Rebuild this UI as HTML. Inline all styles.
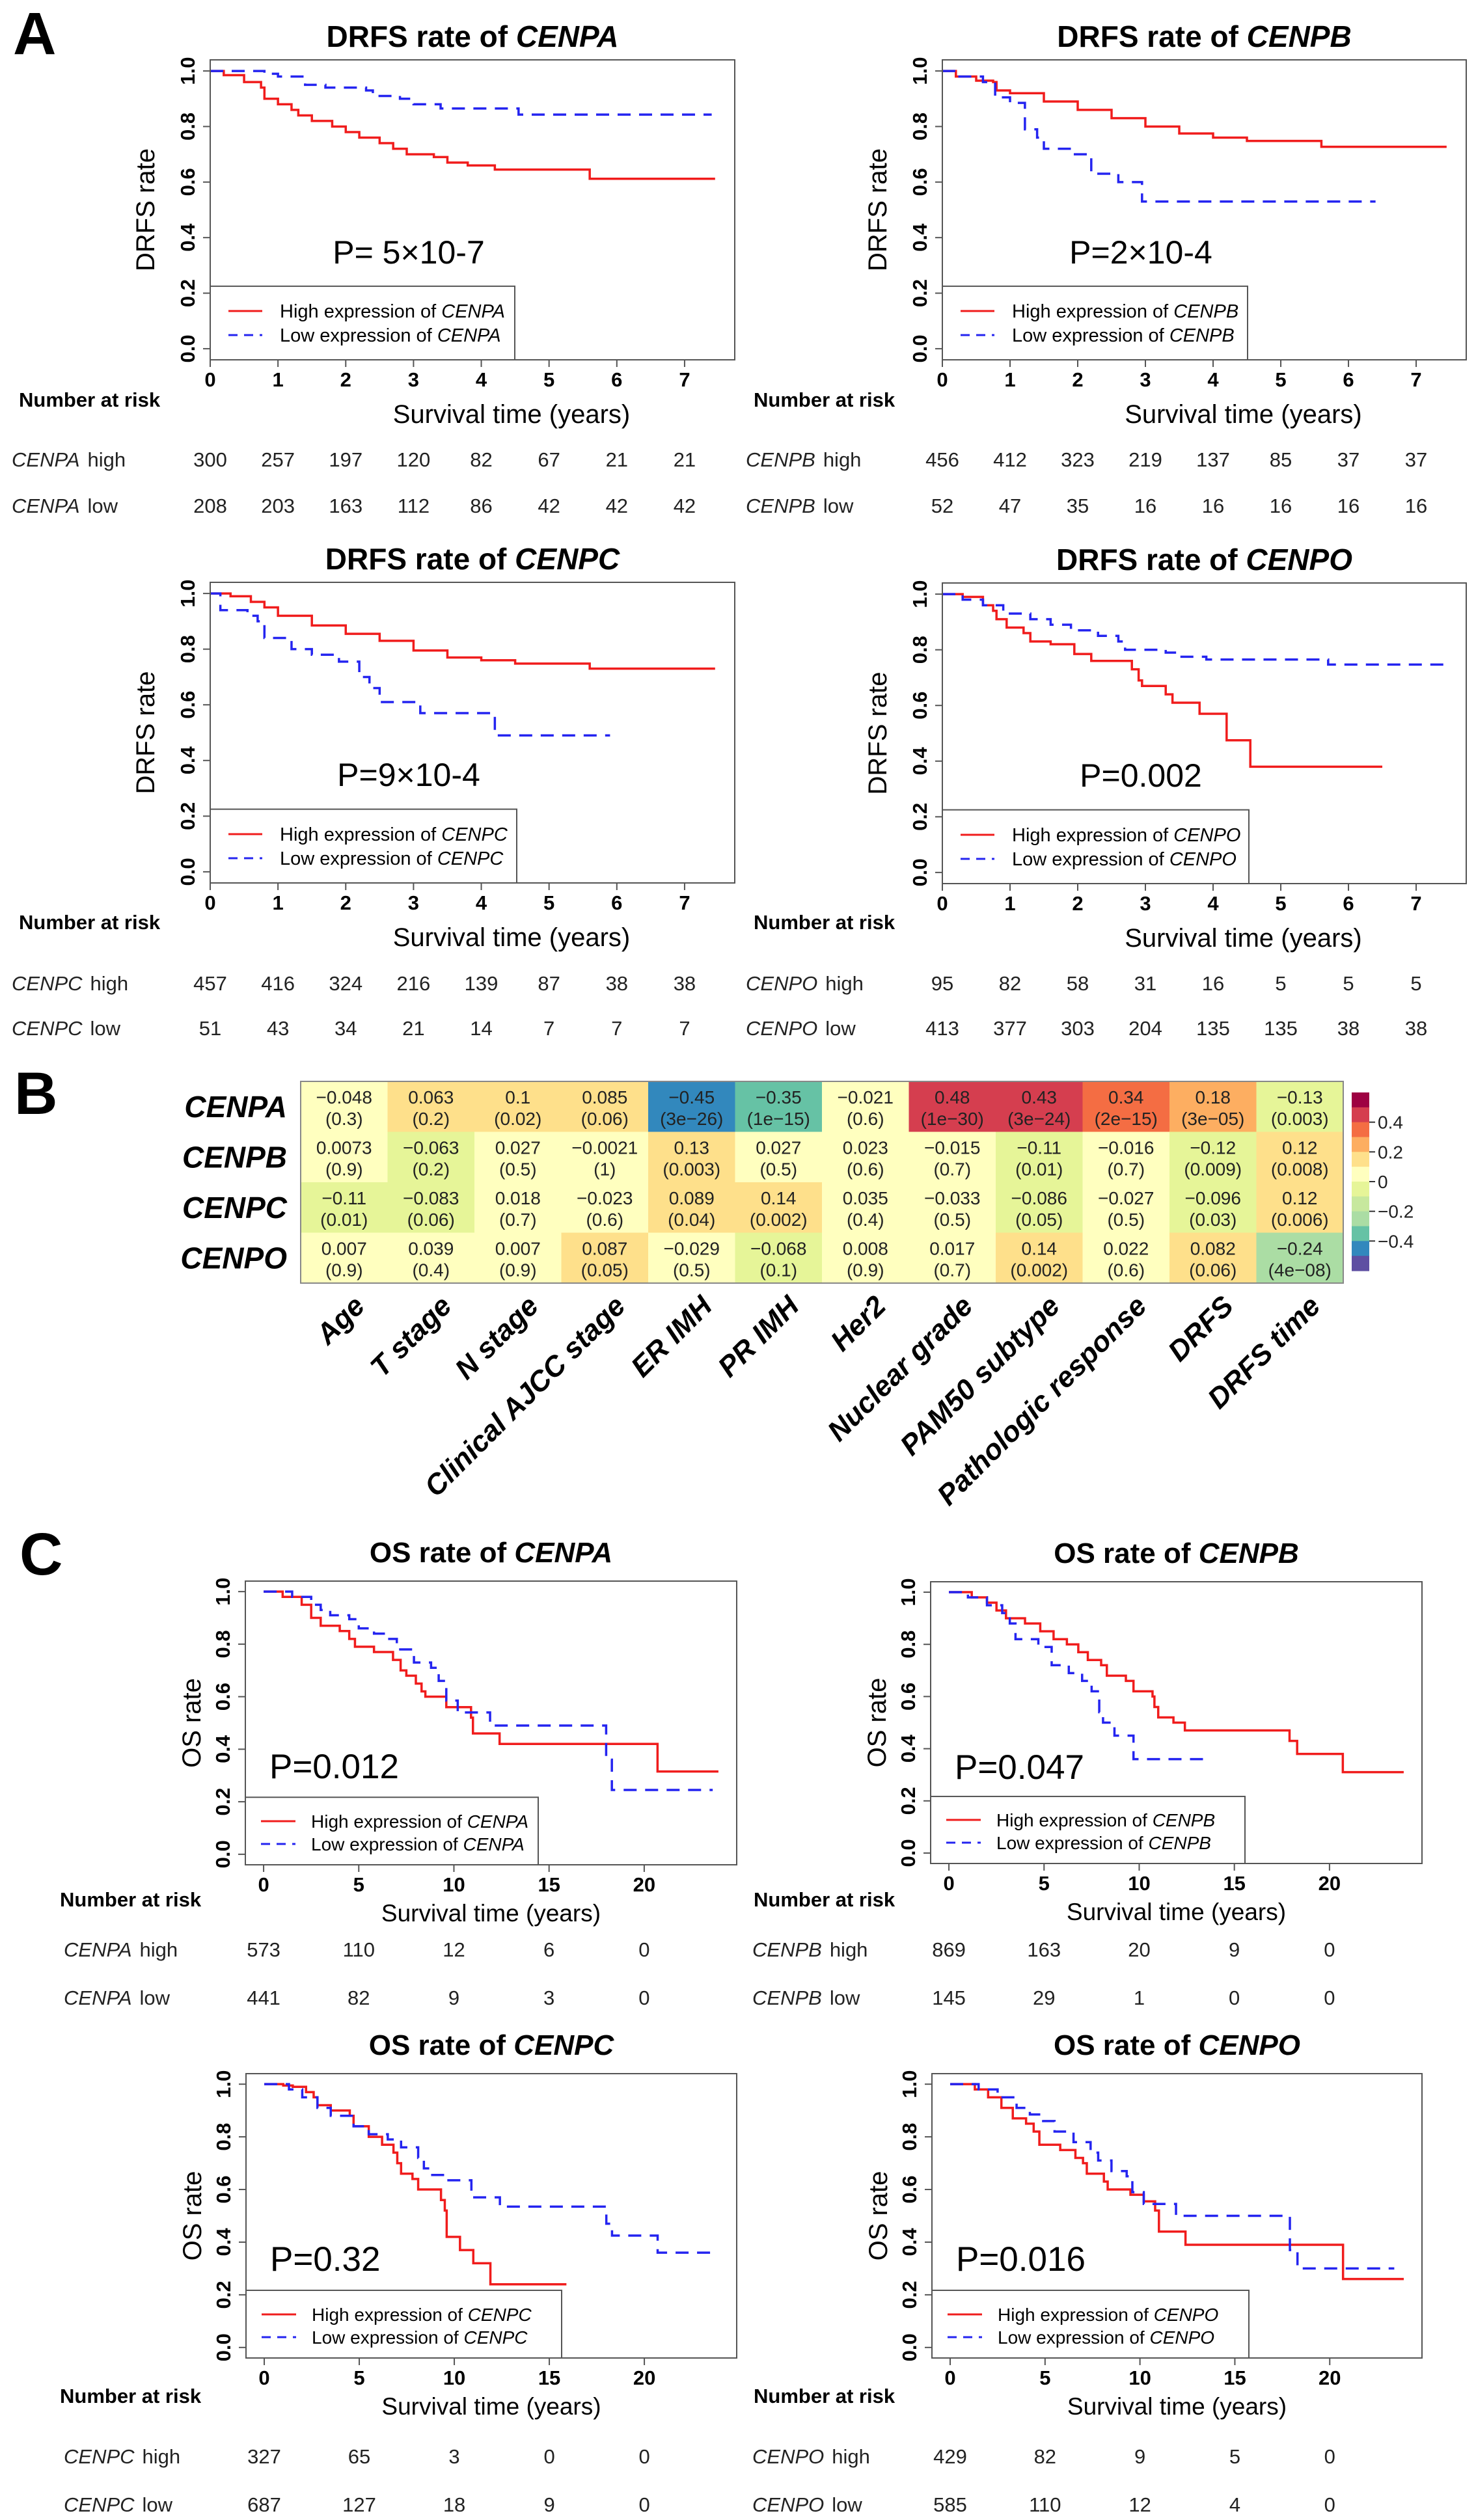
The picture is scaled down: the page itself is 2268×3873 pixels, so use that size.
<!DOCTYPE html>
<html><head><meta charset="utf-8"><title>CENP survival and correlation figure</title>
<style>html,body{margin:0;padding:0;background:#fff}svg{display:block}text{font-family:"Liberation Sans",Arial,sans-serif}</style>
</head><body>
<svg id="fig" xmlns="http://www.w3.org/2000/svg" width="2268" height="3873" viewBox="0 0 2268 3873">
<rect x="0" y="0" width="2268" height="3873" fill="#fff"/>
<text x="20" y="83" font-size="92" font-weight="bold">A</text>
<text x="22" y="1712" font-size="92" font-weight="bold">B</text>
<text x="30" y="2420" font-size="92" font-weight="bold">C</text>
</svg>
<script>
// ---------- DATA ----------
const drfsXTicks=[0,1,2,3,4,5,6,7];
const osXTicks=[0,5,10,15,20];
const yTicks=[0,0.2,0.4,0.6,0.8,1.0];
const yTickLabels=["0.0","0.2","0.4","0.6","0.8","1.0"];

const drfsA_highT=[0.2,0.5,0.75,0.8,1.0,1.2,1.3,1.5,1.8,2.0,2.2,2.5,2.7,2.9,3.3,3.5,3.8,4.2,5.6];
const drfsA_highS=[0.985,0.96,0.94,0.90,0.88,0.86,0.84,0.82,0.80,0.78,0.76,0.74,0.72,0.70,0.69,0.67,0.66,0.645,0.612];
const drfsA_lowT=[0.8,1.0,1.4,1.7,2.3,2.4,2.8,3.0,3.4,4.55];
const drfsA_lowS=[0.99,0.98,0.95,0.94,0.93,0.91,0.90,0.88,0.865,0.843];
const drfsA_riskHigh=[300,257,197,120,82,67,21,21];
const drfsA_riskLow=[208,203,163,112,86,42,42,42];

const drfsB_highT=[0.2,0.5,0.75,0.8,1.0,1.5,2.0,2.5,3.0,3.5,4.0,4.5,5.6];
const drfsB_highS=[0.98,0.965,0.96,0.93,0.92,0.89,0.86,0.83,0.80,0.775,0.76,0.748,0.727];
const drfsB_lowT=[0.2,0.6,0.78,1.0,1.22,1.4,1.5,1.9,2.2,2.6,2.95];
const drfsB_lowS=[0.98,0.96,0.905,0.885,0.79,0.76,0.72,0.70,0.63,0.60,0.53];
const drfsB_riskHigh=[456,412,323,219,137,85,37,37];
const drfsB_riskLow=[52,47,35,16,16,16,16,16];

const drfsC_highT=[0.3,0.6,0.8,1.0,1.5,2.0,2.5,3.0,3.5,4.0,4.5,5.6];
const drfsC_highS=[0.99,0.97,0.95,0.92,0.885,0.855,0.83,0.795,0.77,0.76,0.748,0.73];
const drfsC_lowT=[0.15,0.55,0.7,0.8,1.2,1.5,1.9,2.2,2.35,2.5,3.1,4.2];
const drfsC_lowS=[0.94,0.92,0.90,0.84,0.80,0.78,0.755,0.70,0.66,0.61,0.57,0.49];
const drfsC_riskHigh=[457,416,324,216,139,87,38,38];
const drfsC_riskLow=[51,43,34,21,14,7,7,7];

const drfsO_highT=[0.3,0.6,0.75,0.8,0.95,1.2,1.3,1.6,1.95,2.2,2.8,2.9,2.95,3.3,3.4,3.8,4.2,4.55];
const drfsO_highS=[0.99,0.96,0.94,0.91,0.88,0.86,0.83,0.82,0.785,0.76,0.73,0.69,0.67,0.64,0.61,0.57,0.475,0.38];
const drfsO_lowT=[0.3,0.6,0.9,1.3,1.6,1.9,2.3,2.6,2.7,3.3,3.5,3.9,5.7];
const drfsO_lowS=[0.98,0.96,0.93,0.91,0.89,0.87,0.85,0.83,0.80,0.79,0.775,0.765,0.747];
const drfsO_riskHigh=[95,82,58,31,16,5,5,5];
const drfsO_riskLow=[413,377,303,204,135,135,38,38];

const osA_highT=[1,2,2.5,3,4,4.5,4.8,5.8,6.8,7.2,7.5,8.0,8.3,8.5,9.6,10.9,11.0,12.4,20.7];
const osA_highS=[0.98,0.95,0.90,0.87,0.85,0.82,0.79,0.77,0.74,0.70,0.68,0.65,0.62,0.60,0.56,0.52,0.46,0.42,0.315];
const osA_lowT=[1.5,2.5,3,3.5,4.5,5,5.8,6.5,7,7.9,8.8,9.2,9.6,10.2,11.9,18,18.3];
const osA_lowS=[0.98,0.95,0.93,0.91,0.895,0.86,0.84,0.82,0.78,0.73,0.71,0.66,0.585,0.54,0.49,0.36,0.245];
const osA_riskHigh=[573,110,12,6,0];
const osA_riskLow=[441,82,9,3,0];

const osB_highT=[1.2,2,2.5,3,4,4.8,5.5,6.2,6.8,7.3,8,8.3,9.3,9.7,10.7,10.8,11,11.8,12.4,17.9,18.3,20.7];
const osB_highS=[0.98,0.96,0.93,0.90,0.88,0.85,0.82,0.80,0.77,0.74,0.72,0.68,0.66,0.62,0.60,0.56,0.52,0.50,0.47,0.43,0.38,0.31];
const osB_lowT=[1.0,2.0,2.8,3.2,3.5,4.7,5.4,6.3,7,7.5,7.9,8.1,8.7,9.7];
const osB_lowS=[0.98,0.95,0.92,0.88,0.82,0.79,0.72,0.69,0.66,0.62,0.54,0.50,0.45,0.36];
const osB_riskHigh=[869,163,20,9,0];
const osB_riskLow=[145,29,1,0,0];

const osC_highT=[1,1.5,2.2,2.6,2.8,3.5,4.5,4.7,5.5,6.2,6.8,7.0,7.2,7.8,8.1,9.3,9.5,9.6,10.3,11,11.9];
const osC_highS=[0.995,0.99,0.97,0.95,0.92,0.90,0.88,0.84,0.80,0.77,0.74,0.70,0.66,0.64,0.60,0.56,0.52,0.42,0.37,0.32,0.24];
const osC_lowT=[1.3,2,2.8,3.5,4.7,5.5,6.5,7.2,8.1,8.4,8.7,9.6,10.9,12.4,18,18.3,20.7];
const osC_lowS=[0.98,0.95,0.91,0.88,0.84,0.81,0.79,0.76,0.72,0.68,0.655,0.635,0.57,0.535,0.47,0.425,0.36];
const osC_riskHigh=[327,65,3,0,0];
const osC_riskLow=[687,127,18,9,0];

const osO_highT=[1.3,2,2.7,3.3,4,4.4,4.7,5.8,6.6,7,7.2,8.1,8.3,9.5,10.2,10.8,11,12.4,20.7];
const osO_highS=[0.98,0.95,0.91,0.87,0.85,0.82,0.77,0.75,0.72,0.70,0.66,0.63,0.60,0.58,0.555,0.52,0.44,0.39,0.26];
const osO_lowT=[1.5,2.5,3.5,4.2,4.9,5.5,6.5,7.4,7.8,8.5,9.3,9.6,10.2,11.9,17.9,18.3];
const osO_lowS=[0.98,0.95,0.91,0.885,0.86,0.82,0.78,0.74,0.71,0.67,0.65,0.59,0.545,0.50,0.37,0.30];
const osO_riskHigh=[429,82,9,5,0];
const osO_riskLow=[585,110,12,4,0];

// heatmap data
const hmGenes=["CENPA","CENPB","CENPC","CENPO"];
const hmVars=["Age","T stage","N stage","Clinical AJCC stage","ER IMH","PR IMH","Her2","Nuclear grade","PAM50 subtype","Pathologic response","DRFS","DRFS time"];
const hmCorrA=[-0.048,0.063,0.1,0.085,-0.45,-0.35,-0.021,0.48,0.43,0.34,0.18,-0.13];
const hmCorrB=[0.0073,-0.063,0.027,-0.0021,0.13,0.027,0.023,-0.015,-0.11,-0.016,-0.12,0.12];
const hmCorrC=[-0.11,-0.083,0.018,-0.023,0.089,0.14,0.035,-0.033,-0.086,-0.027,-0.096,0.12];
const hmCorrO=[0.007,0.039,0.007,0.087,-0.029,-0.068,0.008,0.017,0.14,0.022,0.082,-0.24];
const hmPA=["0.3","0.2","0.02","0.06","3e\u221226","1e\u221215","0.6","1e\u221230","3e\u221224","2e\u221215","3e\u221205","0.003"];
const hmPB=["0.9","0.2","0.5","1","0.003","0.5","0.6","0.7","0.01","0.7","0.009","0.008"];
const hmPC=["0.01","0.06","0.7","0.6","0.04","0.002","0.4","0.5","0.05","0.5","0.03","0.006"];
const hmPO=["0.9","0.4","0.9","0.05","0.5","0.1","0.9","0.7","0.002","0.6","0.06","4e\u221208"];
const cbTicks=[0.4,0.2,0,-0.2,-0.4];
const cbTickLabels=["0.4","0.2","0","\u22120.2","\u22120.4"];

// ---------- DRAWING ----------
const NS='http://www.w3.org/2000/svg';
const svg=document.getElementById('fig');
function mk(tag,parent,attrs){const e=document.createElementNS(NS,tag);for(const k in attrs)e.setAttribute(k,attrs[k]);parent.appendChild(e);return e;}

function drawKM(c){
  const g=mk('g',svg,{});
  
  
  const L=c.x,T=c.y,W=c.w,H=c.h,B=T+H;
  const X=t=>L+(t-c.xmin)/(c.xmax-c.xmin)*W;
  const Y=v=>T+(1.04-v)/1.08*H;
  // title
  const tt=mk('text',g,{x:L+W/2,y:T+c.titleDy,'text-anchor':'middle','font-size':c.titleSize,'font-weight':'bold'});
  
  
  tt.appendChild(document.createTextNode(c.titlePre));
  const ti=mk('tspan',tt,{'font-style':'italic'});ti.textContent=c.gene;
  // curves
  function curve(ts,ss,end,col,dash,nm){
    let d='M'+X(0)+' '+Y(1);
    for(let i=0;i<ts.length;i++){d+=' H'+X(ts[i])+' V'+Y(ss[i]);}
    d+=' H'+X(end);
    const p=mk('path',g,{d:d,fill:'none',stroke:col,'stroke-width':3.5});
    if(dash)p.setAttribute('stroke-dasharray',dash);
    
    
  }
  curve(c.highT,c.highS,c.highEnd,'#f01c1c',null,'high-expression-curve');
  curve(c.lowT,c.lowS,c.lowEnd,'#2424f0','20 13','low-expression-curve');
  // box
  const bx=mk('rect',g,{x:L,y:T,width:W,height:H,fill:'none',stroke:'#555','stroke-width':2});
  
  
  // x ticks
  c.xticks.forEach(t=>{
    const ln=mk('line',g,{x1:X(t),x2:X(t),y1:B,y2:B+11,stroke:'#555','stroke-width':2});
    
    
    const lb=mk('text',g,{x:X(t),y:B+41,'text-anchor':'middle','font-size':31,'font-weight':'bold'});
    
    
    lb.textContent=String(t);
  });
  // y ticks
  yTicks.forEach((v,i)=>{
    const ln=mk('line',g,{x1:L-11,x2:L,y1:Y(v),y2:Y(v),stroke:'#555','stroke-width':2});
    
    
    const lx=L-24,ly=Y(v);
    const lb=mk('text',g,{x:lx,y:ly,'text-anchor':'middle','font-size':31,'font-weight':'bold',transform:'rotate(-90 '+lx+' '+ly+')'});
    
    
    lb.textContent=yTickLabels[i];
  });
  // y title
  const yx=L-c.ytitleDx,yy=T+H/2;
  const yt=mk('text',g,{x:yx,y:yy,'text-anchor':'middle','font-size':40,transform:'rotate(-90 '+yx+' '+yy+')'});
  
  
  yt.textContent=c.ytitle;
  // x title
  const xt=mk('text',g,{x:L+W/2+c.xtitleShift,y:B+c.xtitleDy,'text-anchor':'middle','font-size':c.xtitleSize});
  
  
  xt.textContent='Survival time (years)';
  // legend
  const lgTop=Y(c.legendV);
  const lg=mk('rect',g,{x:L,y:lgTop,width:c.legendW,height:B-lgTop,fill:'#fff',stroke:'#555','stroke-width':2});
  
  
  [['High','#f01c1c',null,c.legY1,'legend-entry-high'],['Low','#2424f0','14 10',c.legY2,'legend-entry-low']].forEach(e=>{
    const yy2=B+e[3];
    const ln=mk('line',g,{x1:L+c.legLine0,x2:L+c.legLine1,y1:yy2,y2:yy2,stroke:e[1],'stroke-width':3});
    if(e[2])ln.setAttribute('stroke-dasharray',e[2]);
    
    
    const tx=mk('text',g,{x:L+c.legText,y:yy2+10,'font-size':c.legSize});
    
    
    tx.appendChild(document.createTextNode(e[0]+' expression of '));
    const it=mk('tspan',tx,{'font-style':'italic'});it.textContent=c.gene;
  });
  // p value
  const pv=mk('text',g,{x:L+c.pDx,y:T+c.pDy,'text-anchor':c.pAnchor,'font-size':c.pSize});
  
  
  pv.textContent=c.p;
  // risk table
  const nar=mk('text',g,{x:c.narX,y:c.narY,'font-size':31,'font-weight':'bold'});
  
  
  nar.textContent='Number at risk';
  [['high',c.riskHigh,c.highY,'risk-row-high'],['low',c.riskLow,c.lowY,'risk-row-low']].forEach(r=>{
    const lb=mk('text',g,{x:c.rowX,y:r[2],'font-size':31,fill:'#222'});
    
    
    const it=mk('tspan',lb,{'font-style':'italic'});it.textContent=c.gene;
    const rest=mk('tspan',lb,{dx:12});rest.textContent=r[0];
    r[1].forEach((n,i)=>{
      const nt=mk('text',g,{x:X(c.xticks[i]),y:r[2],'text-anchor':'middle','font-size':31,fill:'#222'});
      
      
      nt.textContent=String(n);
    });
  });
}

const drfsBase={xmin:0,xmax:7.74,xticks:drfsXTicks,titlePre:'DRFS rate of ',titleSize:46,titleDy:-20,ytitle:'DRFS rate',ytitleDx:86,xtitleShift:60,xtitleDy:97,xtitleSize:40,legendV:0.225,legY1:-75,legY2:-38,legLine0:28,legLine1:80,legText:107,legSize:29,pDx:305,pDy:313,pAnchor:'middle',pSize:50};
const osBase={xmin:-0.96,xmax:24.86,xticks:osXTicks,titlePre:'OS rate of ',titleSize:44,titleDy:-29,ytitle:'OS rate',ytitleDx:69,xtitleShift:0,xtitleDy:87,xtitleSize:37,legendV:0.217,legY1:-67,legY2:-32,legLine0:24,legLine1:77,legText:101,legSize:28,pDx:37,pDy:303,pAnchor:'start',pSize:53};

const panels=[
 Object.assign({},drfsBase,{name:'km-drfs-cenpa',gene:'CENPA',x:323,y:92,w:806,h:461,highT:drfsA_highT,highS:drfsA_highS,highEnd:7.45,lowT:drfsA_lowT,lowS:drfsA_lowS,lowEnd:7.4,riskHigh:drfsA_riskHigh,riskLow:drfsA_riskLow,p:'P= 5\u00d710-7',legendW:468,narX:29,rowX:18,narY:625,highY:717,lowY:788}),
 Object.assign({},drfsBase,{name:'km-drfs-cenpb',gene:'CENPB',x:1448,y:92,w:805,h:461,highT:drfsB_highT,highS:drfsB_highS,highEnd:7.45,lowT:drfsB_lowT,lowS:drfsB_lowS,lowEnd:6.4,riskHigh:drfsB_riskHigh,riskLow:drfsB_riskLow,p:'P=2\u00d710-4',legendW:469,narX:1158,rowX:1146,narY:625,highY:717,lowY:788}),
 Object.assign({},drfsBase,{name:'km-drfs-cenpc',gene:'CENPC',x:323,y:895,w:806,h:462,highT:drfsC_highT,highS:drfsC_highS,highEnd:7.45,lowT:drfsC_lowT,lowS:drfsC_lowS,lowEnd:5.9,riskHigh:drfsC_riskHigh,riskLow:drfsC_riskLow,p:'P=9\u00d710-4',legendW:471,narX:29,rowX:18,narY:1428,highY:1522,lowY:1591}),
 Object.assign({},drfsBase,{name:'km-drfs-cenpo',gene:'CENPO',x:1448,y:896,w:805,h:462,highT:drfsO_highT,highS:drfsO_highS,highEnd:6.5,lowT:drfsO_lowT,lowS:drfsO_lowS,lowEnd:7.45,riskHigh:drfsO_riskHigh,riskLow:drfsO_riskLow,p:'P=0.002',legendW:471,narX:1158,rowX:1146,narY:1428,highY:1522,lowY:1591}),
 Object.assign({},osBase,{name:'km-os-cenpa',gene:'CENPA',x:377,y:2430,w:755,h:436,highT:osA_highT,highS:osA_highS,highEnd:23.9,lowT:osA_lowT,lowS:osA_lowS,lowEnd:23.6,riskHigh:osA_riskHigh,riskLow:osA_riskLow,p:'P=0.012',legendW:450,narX:92,rowX:98,narY:2930,highY:3007,lowY:3081}),
 Object.assign({},osBase,{name:'km-os-cenpb',gene:'CENPB',x:1430,y:2431,w:755,h:433,highT:osB_highT,highS:osB_highS,highEnd:23.9,lowT:osB_lowT,lowS:osB_lowS,lowEnd:13.7,riskHigh:osB_riskHigh,riskLow:osB_riskLow,p:'P=0.047',legendW:483,narX:1158,rowX:1156,narY:2930,highY:3007,lowY:3081}),
 Object.assign({},osBase,{name:'km-os-cenpc',gene:'CENPC',x:378,y:3187,w:754,h:437,highT:osC_highT,highS:osC_highS,highEnd:15.9,lowT:osC_lowT,lowS:osC_lowS,lowEnd:23.9,riskHigh:osC_riskHigh,riskLow:osC_riskLow,p:'P=0.32',legendW:485,narX:92,rowX:98,narY:3693,highY:3786,lowY:3860}),
 Object.assign({},osBase,{name:'km-os-cenpo',gene:'CENPO',x:1432,y:3187,w:753,h:437,highT:osO_highT,highS:osO_highS,highEnd:23.9,lowT:osO_lowT,lowS:osO_lowS,lowEnd:23.4,riskHigh:osO_riskHigh,riskLow:osO_riskLow,p:'P=0.016',legendW:487,narX:1158,rowX:1156,narY:3693,highY:3786,lowY:3860})
];
panels.forEach(drawKM);

// ---------- HEATMAP ----------
(function(){
  const g=mk('g',svg,{});
  
  
  const x0=462,y0=1662,cw=133.5,rh=77.5;
  const corr=[hmCorrA,hmCorrB,hmCorrC,hmCorrO];
  const pv=[hmPA,hmPB,hmPC,hmPO];
  function col(v){
    if(v>=0.4)return '#d53e4f';
    if(v>=0.3)return '#f46d43';
    if(v>=0.15)return '#fdae61';
    if(v>=0.05)return '#fee08b';
    if(v>-0.05)return '#ffffbf';
    if(v>-0.15)return '#e6f598';
    if(v>-0.3)return '#abdda4';
    if(v>-0.4)return '#66c2a5';
    return '#3288bd';
  }
  corr.forEach((row,r)=>{
    row.forEach((v,ci)=>{
      const cell=mk('rect',g,{x:x0+ci*cw,y:y0+r*rh,width:cw+0.6,height:rh+0.6,fill:col(v)});
      
      
      const cx=x0+ci*cw+cw/2;
      const t1=mk('text',g,{x:cx,y:y0+r*rh+34,'text-anchor':'middle','font-size':28,fill:'#222'});
      
      
      t1.textContent=String(v).replace('-','\u2212');
      const t2=mk('text',g,{x:cx,y:y0+r*rh+67,'text-anchor':'middle','font-size':28,fill:'#222'});
      
      
      t2.textContent='('+pv[r][ci]+')';
    });
    const rl=mk('text',g,{x:441,y:y0+r*rh+rh/2+16,'text-anchor':'end','font-size':46,'font-weight':'bold','font-style':'italic'});
    
    
    rl.textContent=hmGenes[r];
  });
  const fr=mk('rect',g,{x:x0,y:y0,width:cw*12,height:rh*4,fill:'none',stroke:'#888','stroke-width':2});
  
  
  hmVars.forEach((name,ci)=>{
    const px=x0+ci*cw+cw/2+34,py=2010;
    const t=mk('text',g,{x:px,y:py,'text-anchor':'end','font-size':44,'font-weight':'bold','font-style':'italic',transform:'rotate(-45 '+px+' '+py+')'});
    
    
    t.textContent=name;
  });
  // colorbar
  const cbCols=['#9e0142','#d53e4f','#f46d43','#fdae61','#fee08b','#ffffbf','#e6f598','#c7e89e','#abdda4','#66c2a5','#3288bd','#5e4fa2'];
  const cbx=2077,cbTop=1679,cbBot=1953,cbW=27;
  const CY=v=>cbTop+(0.6-v)/1.2*(cbBot-cbTop);
  cbCols.forEach((c,i)=>{
    const b=mk('rect',g,{x:cbx,y:CY(0.6-i*0.1),width:cbW,height:(cbBot-cbTop)/12+0.6,fill:c});
    
    
  });
  cbTicks.forEach((v,i)=>{
    const ln=mk('line',g,{x1:cbx+cbW,x2:cbx+cbW+9,y1:CY(v),y2:CY(v),stroke:'#333','stroke-width':2});
    
    
    const t=mk('text',g,{x:cbx+cbW+13,y:CY(v)+10,'font-size':28,fill:'#222'});
    
    
    t.textContent=cbTickLabels[i];
  });
})();
</script>
</body></html>
